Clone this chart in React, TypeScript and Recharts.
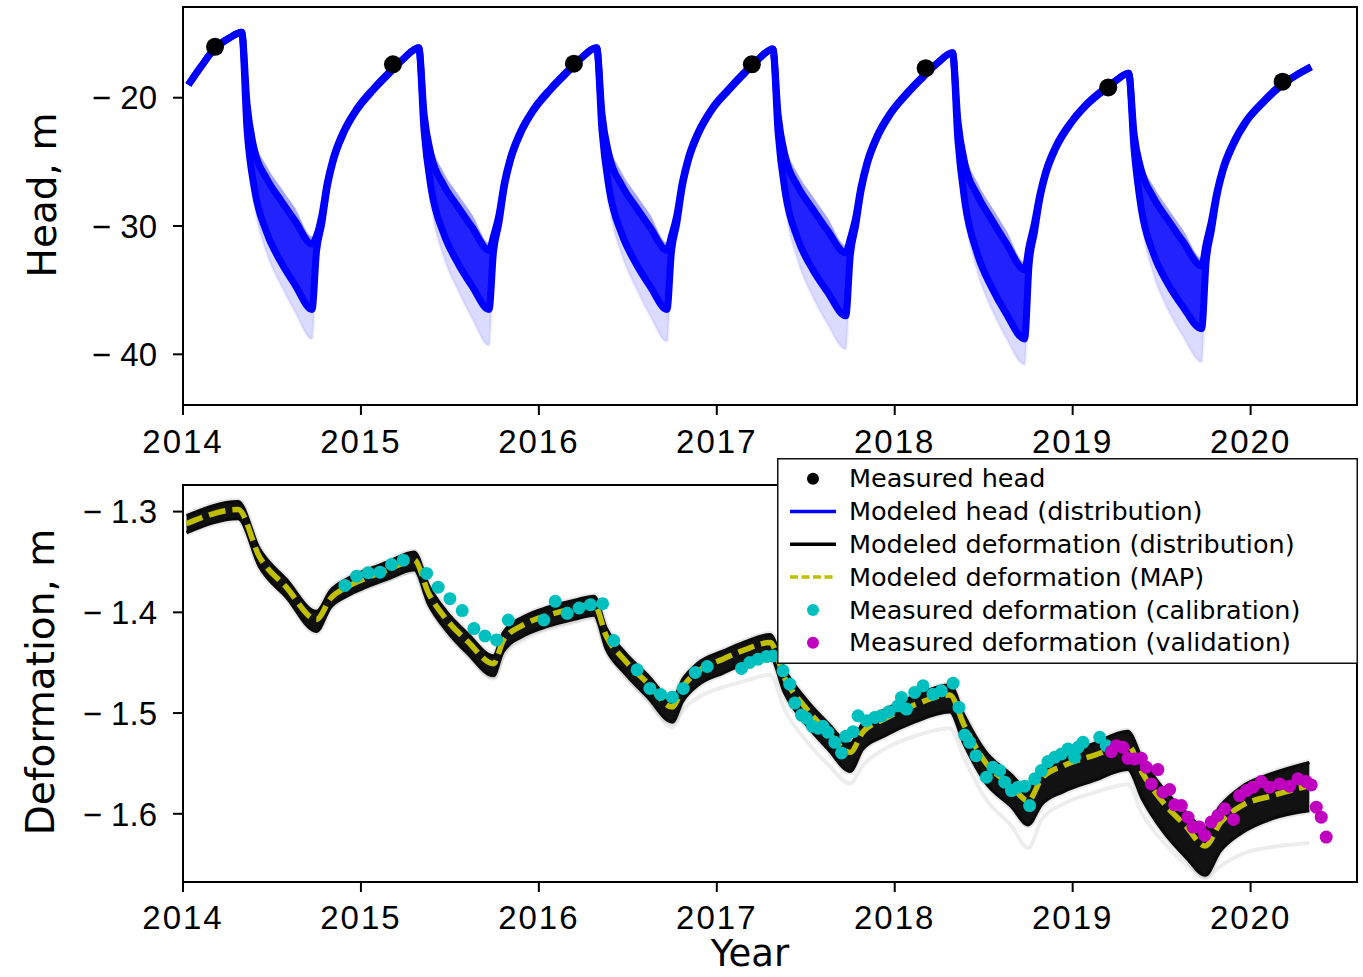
import React from 'react';
import { ComposedChart, Area, Line, Scatter, XAxis, YAxis, ReferenceArea } from 'recharts';

// ---------- axes ----------
const YEAR_TICKS = [2014, 2015, 2016, 2017, 2018, 2019, 2020];
const X_DOMAIN: [number, number] = [2014, 2020.598];
const HEAD_TICKS = [-40, -30, -20];
const HEAD_DOMAIN: [number, number] = [-43.95, -12.93];
const DEF_TICKS = [-1.6, -1.5, -1.4, -1.3];
const DEF_DOMAIN: [number, number] = [-1.6677, -1.2736];

// ---------- modeled head distribution: [year, upperFaint, upper, lower, lowerFaint] ----------
const headStart = [
  [2014.03, -19.0, -19.0, -19.0, -19.0],
  [2014.10, -17.6, -17.6, -17.6, -17.6],
  [2014.18, -16.15, -16.15, -16.15, -16.15],
  [2014.26, -15.35, -15.35, -15.35, -15.35],
  [2014.33, -14.9, -14.9, -14.9, -14.9],
];
const headCycle2014 = [
  [2014.36, -19.5, -20.5, -22.5, -23.3],
  [2014.40, -23.0, -24.0, -27.0, -28.2],
  [2014.47, -25.3, -26.3, -30.5, -32.1],
  [2014.55, -27.0, -28.0, -32.8, -34.6],
  [2014.63, -28.6, -29.6, -34.6, -36.7],
  [2014.725, -30.8, -31.4, -36.5, -38.8],
  [2014.75, -30.8, -30.8, -32.0, -33.5],
  [2014.78, -29.2, -29.2, -29.8, -30.2],
  [2014.81, -26.7, -26.7, -27.0, -27.2],
  [2014.845, -24.7, -24.7, -24.9, -25.0],
  [2014.90, -22.7, -22.7, -22.85, -22.9],
  [2014.975, -20.9, -20.9, -21.0, -21.0],
  [2015.07, -19.3, -19.3, -19.4, -19.4],
  [2015.16, -18.0, -18.0, -18.1, -18.1],
  [2015.24, -16.95, -16.95, -16.95, -16.95],
  [2015.325, -16.1, -16.1, -16.1, -16.1],
];
const headCycle2015 = [
  [2015.355, -20.5, -21.3, -22.6, -23.4],
  [2015.395, -23.5, -24.5, -27.1, -28.4],
  [2015.465, -25.8, -26.8, -30.6, -32.4],
  [2015.545, -27.5, -28.5, -32.9, -35.0],
  [2015.625, -29.1, -30.1, -34.7, -37.2],
  [2015.72, -31.3, -31.9, -36.5, -39.3],
  [2015.745, -30.8, -30.8, -32.0, -33.5],
  [2015.775, -29.2, -29.2, -29.8, -30.2],
  [2015.805, -26.7, -26.7, -27.0, -27.2],
  [2015.84, -24.7, -24.7, -24.9, -25.0],
  [2015.895, -22.7, -22.7, -22.85, -22.9],
  [2015.97, -20.9, -20.9, -21.0, -21.0],
  [2016.065, -19.3, -19.3, -19.4, -19.4],
  [2016.155, -18.0, -18.0, -18.1, -18.1],
  [2016.235, -16.95, -16.95, -16.95, -16.95],
  [2016.325, -16.1, -16.1, -16.1, -16.1],
];
const headCycle2016 = [
  [2016.355, -20.5, -21.3, -22.6, -23.4],
  [2016.395, -23.5, -24.5, -27.1, -28.3],
  [2016.465, -25.8, -26.8, -30.6, -32.2],
  [2016.545, -27.5, -28.5, -32.9, -34.8],
  [2016.625, -29.1, -30.1, -34.7, -37.0],
  [2016.72, -31.3, -31.9, -36.5, -39.0],
  [2016.745, -30.8, -30.8, -32.0, -33.5],
  [2016.775, -29.2, -29.2, -29.8, -30.2],
  [2016.805, -26.7, -26.7, -27.0, -27.2],
  [2016.84, -24.7, -24.7, -24.9, -25.0],
  [2016.895, -22.7, -22.7, -22.85, -22.9],
  [2016.97, -20.9, -20.9, -21.0, -21.0],
  [2017.065, -19.35, -19.35, -19.45, -19.45],
  [2017.15, -18.1, -18.1, -18.2, -18.2],
  [2017.23, -17.05, -17.05, -17.05, -17.05],
  [2017.315, -16.2, -16.2, -16.2, -16.2],
];
const headCycle2017 = [
  [2017.345, -20.6, -21.4, -22.8, -23.5],
  [2017.385, -23.6, -24.6, -27.4, -28.6],
  [2017.455, -25.9, -26.9, -31.0, -32.7],
  [2017.535, -27.6, -28.6, -33.3, -35.4],
  [2017.62, -29.3, -30.3, -35.1, -37.6],
  [2017.725, -31.5, -32.1, -37.0, -39.6],
  [2017.75, -31.0, -31.0, -32.3, -33.8],
  [2017.78, -29.4, -29.4, -30.0, -30.4],
  [2017.81, -27.0, -27.0, -27.3, -27.5],
  [2017.845, -25.0, -25.0, -25.2, -25.3],
  [2017.90, -23.0, -23.0, -23.15, -23.2],
  [2017.975, -21.2, -21.2, -21.3, -21.3],
  [2018.07, -19.6, -19.6, -19.7, -19.7],
  [2018.16, -18.3, -18.3, -18.4, -18.4],
  [2018.24, -17.3, -17.3, -17.3, -17.3],
  [2018.325, -16.5, -16.5, -16.5, -16.5],
];
const headCycle2018 = [
  [2018.355, -21.0, -21.8, -23.3, -24.0],
  [2018.395, -24.2, -25.2, -28.2, -29.2],
  [2018.465, -26.6, -27.6, -32.2, -33.6],
  [2018.545, -28.5, -29.5, -34.8, -36.5],
  [2018.625, -30.3, -31.3, -36.8, -38.7],
  [2018.73, -32.8, -33.4, -38.8, -40.8],
  [2018.755, -31.6, -31.6, -33.0, -34.6],
  [2018.785, -29.8, -29.8, -30.5, -31.0],
  [2018.815, -27.6, -27.6, -27.9, -28.1],
  [2018.85, -25.7, -25.7, -25.9, -26.0],
  [2018.905, -23.8, -23.8, -23.95, -24.0],
  [2018.98, -22.1, -22.1, -22.2, -22.2],
  [2019.07, -20.6, -20.6, -20.7, -20.7],
  [2019.16, -19.5, -19.5, -19.6, -19.6],
  [2019.24, -18.7, -18.7, -18.7, -18.7],
  [2019.315, -18.1, -18.1, -18.1, -18.1],
];
const headCycle2019 = [
  [2019.345, -22.0, -22.8, -24.0, -24.7],
  [2019.385, -24.8, -25.6, -28.6, -29.6],
  [2019.455, -26.9, -27.8, -32.2, -33.8],
  [2019.535, -28.6, -29.5, -34.5, -36.5],
  [2019.62, -30.3, -31.2, -36.3, -38.6],
  [2019.725, -32.5, -33.1, -38.0, -40.6],
  [2019.75, -31.4, -31.4, -32.8, -34.3],
  [2019.78, -29.6, -29.6, -30.3, -30.8],
  [2019.81, -27.4, -27.4, -27.7, -27.9],
  [2019.845, -25.5, -25.5, -25.7, -25.8],
  [2019.90, -23.6, -23.6, -23.75, -23.8],
  [2019.975, -21.8, -21.8, -21.9, -21.9],
  [2020.07, -20.3, -20.3, -20.4, -20.4],
  [2020.16, -19.1, -19.1, -19.2, -19.2],
  [2020.25, -18.3, -18.3, -18.3, -18.3],
  [2020.34, -17.6, -17.6, -17.6, -17.6],
];

const measuredHead = [
  [2014.18, -16.03],
  [2015.18, -17.4],
  [2016.197, -17.35],
  [2017.197, -17.4],
  [2018.174, -17.7],
  [2019.2, -19.2],
  [2020.18, -18.75],
];

// ---------- modeled deformation ----------
const defT = [
  2014.02, 2014.31, 2014.43, 2014.58, 2014.75, 2014.83, 2014.92,
  2015.03, 2015.15, 2015.30, 2015.38, 2015.48, 2015.60, 2015.745, 2015.80, 2015.93,
  2016.05, 2016.20, 2016.31, 2016.38, 2016.48, 2016.61, 2016.75, 2016.81, 2016.89,
  2017.04, 2017.16, 2017.30, 2017.38, 2017.50, 2017.625, 2017.75, 2017.82, 2017.94,
  2018.11, 2018.31, 2018.39, 2018.51, 2018.655, 2018.75, 2018.825, 2018.95,
  2019.12, 2019.31, 2019.39, 2019.51, 2019.635, 2019.745, 2019.83, 2019.95,
  2020.12, 2020.33,
];
const defMap = [
  -1.312, -1.298, -1.345, -1.375, -1.407, -1.386, -1.375,
  -1.366, -1.358, -1.348, -1.381, -1.407, -1.429, -1.451, -1.428, -1.411,
  -1.403, -1.396, -1.392, -1.424, -1.447, -1.470, -1.494, -1.474, -1.459,
  -1.446, -1.437, -1.430, -1.465, -1.495, -1.519, -1.539, -1.519, -1.506,
  -1.492, -1.482, -1.512, -1.549, -1.572, -1.587, -1.565, -1.552,
  -1.542, -1.532, -1.559, -1.589, -1.612, -1.632, -1.609, -1.592,
  -1.582, -1.572,
];
const defHi = [
  -1.304, -1.290, -1.337, -1.367, -1.399, -1.378, -1.367,
  -1.358, -1.350, -1.340, -1.373, -1.399, -1.421, -1.443, -1.420, -1.403,
  -1.395, -1.388, -1.384, -1.416, -1.439, -1.462, -1.486, -1.466, -1.451,
  -1.438, -1.429, -1.422, -1.456, -1.486, -1.510, -1.530, -1.510, -1.497,
  -1.483, -1.472, -1.502, -1.538, -1.561, -1.576, -1.555, -1.541,
  -1.530, -1.518, -1.545, -1.575, -1.598, -1.614, -1.592, -1.573,
  -1.560, -1.549,
];
const defLo = [
  -1.321, -1.307, -1.355, -1.385, -1.419, -1.395, -1.384,
  -1.375, -1.367, -1.358, -1.392, -1.418, -1.441, -1.463, -1.439, -1.422,
  -1.414, -1.407, -1.403, -1.437, -1.460, -1.484, -1.509, -1.488, -1.473,
  -1.460, -1.451, -1.444, -1.480, -1.511, -1.536, -1.558, -1.536, -1.523,
  -1.509, -1.499, -1.531, -1.569, -1.593, -1.611, -1.591, -1.578,
  -1.567, -1.556, -1.585, -1.618, -1.643, -1.661, -1.637, -1.619,
  -1.605, -1.597,
];
const defOutlier = [
  -1.316, -1.302, -1.350, -1.381, -1.415, -1.395, -1.384,
  -1.376, -1.368, -1.360, -1.393, -1.420, -1.442, -1.466, -1.444, -1.426,
  -1.417, -1.410, -1.406, -1.438, -1.462, -1.487, -1.514, -1.497, -1.485,
  -1.474, -1.468, -1.462, -1.496, -1.527, -1.551, -1.570, -1.552, -1.536,
  -1.523, -1.515, -1.545, -1.585, -1.612, -1.634, -1.606, -1.590,
  -1.579, -1.571, -1.600, -1.628, -1.650, -1.664, -1.652, -1.640,
  -1.633, -1.629,
];

// ---------- measured deformation ----------
const calibration = [
  [2014.910, -1.3733], [2014.976, -1.3641], [2015.041, -1.3607], [2015.107, -1.3601],
  [2015.172, -1.3525], [2015.238, -1.3482], [2015.369, -1.3614], [2015.434, -1.3750],
  [2015.500, -1.3864], [2015.569, -1.3983], [2015.635, -1.4161], [2015.697, -1.4235],
  [2015.762, -1.4274], [2015.828, -1.4076], [2016.028, -1.4076], [2016.092, -1.3891],
  [2016.159, -1.4010], [2016.226, -1.3957], [2016.290, -1.3924], [2016.358, -1.3914],
  [2016.421, -1.4280], [2016.552, -1.4571], [2016.624, -1.4755], [2016.684, -1.4815],
  [2016.750, -1.4842], [2016.811, -1.4755], [2016.879, -1.4597], [2016.946, -1.4538],
  [2017.139, -1.4557], [2017.185, -1.4498], [2017.232, -1.4465], [2017.279, -1.4439],
  [2017.316, -1.4433], [2017.372, -1.4581], [2017.410, -1.4713], [2017.438, -1.4901],
  [2017.476, -1.5020], [2017.504, -1.5052], [2017.538, -1.5132], [2017.569, -1.5151],
  [2017.597, -1.5132], [2017.625, -1.5191], [2017.663, -1.5290], [2017.701, -1.5396],
  [2017.725, -1.5231], [2017.766, -1.5185], [2017.794, -1.5027], [2017.841, -1.5076],
  [2017.888, -1.5043], [2017.925, -1.5027], [2017.968, -1.4987], [2018.019, -1.4928],
  [2018.066, -1.4960], [2018.038, -1.4845], [2018.112, -1.4795], [2018.159, -1.4730],
  [2018.215, -1.4812], [2018.262, -1.4779], [2018.328, -1.4703], [2018.361, -1.4944],
  [2018.393, -1.5218], [2018.421, -1.5290], [2018.457, -1.5423], [2018.515, -1.5637],
  [2018.552, -1.5538], [2018.590, -1.5571], [2018.618, -1.5686], [2018.656, -1.5769],
  [2018.693, -1.5736], [2018.730, -1.5726], [2018.758, -1.5918], [2018.787, -1.5653],
  [2018.824, -1.5571], [2018.861, -1.5482], [2018.899, -1.5439], [2018.937, -1.5406],
  [2018.974, -1.5356], [2019.011, -1.5439], [2019.030, -1.5340], [2019.058, -1.5290],
  [2019.152, -1.5241], [2019.189, -1.5324],
];
const validation = [
  [2019.217, -1.5383], [2019.246, -1.5324], [2019.283, -1.5340], [2019.311, -1.5449],
  [2019.348, -1.5455], [2019.386, -1.5449], [2019.414, -1.5538], [2019.479, -1.5561],
  [2019.442, -1.5703], [2019.507, -1.5785], [2019.545, -1.5759], [2019.573, -1.5911],
  [2019.611, -1.5918], [2019.648, -1.6033], [2019.676, -1.6132], [2019.713, -1.6132],
  [2019.742, -1.6215], [2019.779, -1.6082], [2019.816, -1.6017], [2019.854, -1.5950],
  [2019.904, -1.6056], [2019.938, -1.5819], [2019.976, -1.5769], [2020.013, -1.5736],
  [2020.060, -1.5680], [2020.107, -1.5736], [2020.163, -1.5703], [2020.219, -1.5726],
  [2020.266, -1.5653], [2020.313, -1.5680], [2020.341, -1.5713], [2020.369, -1.5934],
  [2020.397, -1.6033], [2020.425, -1.6231],
];

const LEGEND_ITEMS = [
  { label: 'Measured head', kind: 'dot', color: '#000000' },
  { label: 'Modeled head (distribution)', kind: 'line', color: '#0000ff' },
  { label: 'Modeled deformation (distribution)', kind: 'line', color: '#000000' },
  { label: 'Modeled deformation (MAP)', kind: 'dash', color: '#bfbf00' },
  { label: 'Measured deformation (calibration)', kind: 'dot', color: '#00bfbf' },
  { label: 'Measured deformation (validation)', kind: 'dot', color: '#bf00bf' },
];

// ---------- derived tables ----------
const headRows = [
  ...headStart, ...headCycle2014, ...headCycle2015, ...headCycle2016,
  ...headCycle2017, ...headCycle2018, ...headCycle2019,
].map(([t, hiF, hi, lo, loF]) => ({
  t,
  core: [lo, hi],
  fringeHi: [hi, hiF],
  fringeLo: [loF, lo],
}));
const headDots = measuredHead.map(([t, v]) => ({ t, v }));
const defRows = defT.map((t, i) => ({
  t,
  map: defMap[i],
  band: [defLo[i], defHi[i]],
  out: defOutlier[i],
}));
const calDots = calibration.map(([t, v]) => ({ t, v }));
const valDots = validation.map(([t, v]) => ({ t, v }));

const TICK_FONT = '"Liberation Sans", Arial, sans-serif';
const TEXT_FONT = '"DejaVu Sans", Verdana, sans-serif';

const fmtHead = (v: number) => `\u2212 ${Math.abs(v)}`;
const fmtDef = (v: number) => `\u2212 ${Math.abs(v).toFixed(1)}`;

const XTick = (p: any) => (
  <text x={p.x} y={p.y} dy="0.71em" textAnchor="middle" fontFamily={TICK_FONT}
    fontSize={33} letterSpacing={2} fill="#000">
    {p.payload.value}
  </text>
);
const makeYTick = (fmt: (v: number) => string) => (p: any) => (
  <text x={p.x} y={p.y} dy="0.355em" textAnchor="end" fontFamily={TICK_FONT}
    fontSize={33} fill="#000">
    {fmt(p.payload.value)}
  </text>
);

const dotShape = (r: number, color: string) => (p: any) => (
  <circle cx={p.cx} cy={p.cy} r={r} fill={color} />
);

const tickLineStyle = { stroke: '#000', strokeWidth: 2 };

function HeadPanel() {
  return (
    <ComposedChart width={1363} height={460} margin={{ top: 7, right: 6, bottom: 5, left: 83 }}>
      <XAxis dataKey="t" type="number" domain={X_DOMAIN} ticks={YEAR_TICKS} interval={0}
        allowDataOverflow height={50} tickSize={10} tickMargin={15}
        axisLine={false} tickLine={tickLineStyle} tick={XTick} />
      <YAxis type="number" domain={HEAD_DOMAIN} ticks={HEAD_TICKS} interval={0}
        allowDataOverflow width={100} tickSize={10} tickMargin={16}
        axisLine={false} tickLine={tickLineStyle} tick={makeYTick(fmtHead)} />
      <Area data={headRows} dataKey="fringeLo" type="monotone" stroke="#0000ff" strokeOpacity={0.06}
        strokeWidth={3} fill="#0000ff" fillOpacity={0.14} isAnimationActive={false} dot={false} activeDot={false} />
      <Area data={headRows} dataKey="fringeHi" type="monotone" stroke="none"
        fill="#0000ff" fillOpacity={0.35} isAnimationActive={false} dot={false} activeDot={false} />
      <Area data={headRows} dataKey="core" type="monotone" stroke="#0000ff" strokeWidth={7}
        fill="#0a0aff" fillOpacity={0.9} isAnimationActive={false} dot={false} activeDot={false} />
      <Scatter data={headDots} dataKey="v" isAnimationActive={false}
        shape={dotShape(9, '#000')} />
      <ReferenceArea x1={X_DOMAIN[0]} x2={X_DOMAIN[1]} y1={HEAD_DOMAIN[0]} y2={HEAD_DOMAIN[1]}
        fill="none" stroke="#000" strokeWidth={2} ifOverflow="visible" />
    </ComposedChart>
  );
}

function DeformationPanel() {
  return (
    <ComposedChart width={1363} height={517} margin={{ top: 25, right: 6, bottom: 45, left: 83 }}>
      <XAxis dataKey="t" type="number" domain={X_DOMAIN} ticks={YEAR_TICKS} interval={0}
        allowDataOverflow height={50} tickSize={10} tickMargin={14}
        axisLine={false} tickLine={tickLineStyle} tick={XTick} />
      <YAxis type="number" domain={DEF_DOMAIN} ticks={DEF_TICKS} interval={0}
        allowDataOverflow width={100} tickSize={10} tickMargin={16}
        axisLine={false} tickLine={tickLineStyle} tick={makeYTick(fmtDef)} />
      <Line data={defRows} dataKey="out" type="monotone" stroke="#000" strokeOpacity={0.07}
        strokeWidth={4} dot={false} activeDot={false} isAnimationActive={false} />
      <Area data={defRows} dataKey="band" type="monotone" stroke="#000" strokeOpacity={0.09}
        strokeWidth={7} fill="#000" fillOpacity={0.1} isAnimationActive={false} dot={false} activeDot={false} />
      <Area data={defRows} dataKey="band" type="monotone" stroke="#0a0a0a" strokeWidth={3}
        fill="#0a0a0a" fillOpacity={0.97} isAnimationActive={false} dot={false} activeDot={false} />
      <Line data={defRows} dataKey="map" type="monotone" stroke="#bfbf00" strokeWidth={5.5}
        strokeDasharray="17 7" dot={false} activeDot={false} isAnimationActive={false} />
      <Scatter data={calDots} dataKey="v" isAnimationActive={false}
        shape={dotShape(6.5, '#00bfbf')} />
      <Scatter data={valDots} dataKey="v" isAnimationActive={false}
        shape={dotShape(6.5, '#bf00bf')} />
      <ReferenceArea x1={X_DOMAIN[0]} x2={X_DOMAIN[1]} y1={DEF_DOMAIN[0]} y2={DEF_DOMAIN[1]}
        fill="none" stroke="#000" strokeWidth={2} ifOverflow="visible" />
    </ComposedChart>
  );
}

function LegendBox() {
  const rowY = (i: number) => 20.7 + i * 32.8;
  return (
    <svg width={581} height={207} style={{ position: 'absolute', left: 777, top: 458 }}>
      <rect x={0.75} y={0.75} width={579.5} height={204.5} fill="#fff" stroke="#111" strokeWidth={1.5} />
      {LEGEND_ITEMS.map((it, i) => {
        const y = rowY(i);
        return (
          <g key={it.label}>
            {it.kind === 'dot' && <circle cx={36} cy={y} r={6} fill={it.color} />}
            {it.kind === 'line' && <line x1={13} x2={59} y1={y} y2={y} stroke={it.color} strokeWidth={3.5} />}
            {it.kind === 'dash' && (
              <line x1={13} x2={59} y1={y} y2={y} stroke={it.color} strokeWidth={3.5} strokeDasharray="8 3.5" />
            )}
            <text x={72} y={y + 8.7} fontFamily={TEXT_FONT} fontSize={25.5} fill="#000">{it.label}</text>
          </g>
        );
      })}
    </svg>
  );
}

function Titles() {
  return (
    <svg width={1363} height={977} style={{ position: 'absolute', left: 0, top: 0, pointerEvents: 'none' }}>
      <text x={56} y={195} transform="rotate(-90 56 195)" textAnchor="middle"
        fontFamily={TEXT_FONT} fontSize={39} fill="#000">Head, m</text>
      <text x={54} y={682} transform="rotate(-90 54 682)" textAnchor="middle"
        fontFamily={TEXT_FONT} fontSize={39} fill="#000">Deformation, m</text>
      <text x={750} y={966} textAnchor="middle" fontFamily={TEXT_FONT} fontSize={37} fill="#000">Year</text>
    </svg>
  );
}

export default function App() {
  return (
    <div style={{ position: 'absolute', left: 0, top: 0, width: 1363, height: 977, background: '#fff', overflow: 'hidden' }}>
      <div style={{ position: 'absolute', left: 0, top: 0 }}>
        <HeadPanel />
      </div>
      <div style={{ position: 'absolute', left: 0, top: 460 }}>
        <DeformationPanel />
      </div>
      <Titles />
      <LegendBox />
    </div>
  );
}
